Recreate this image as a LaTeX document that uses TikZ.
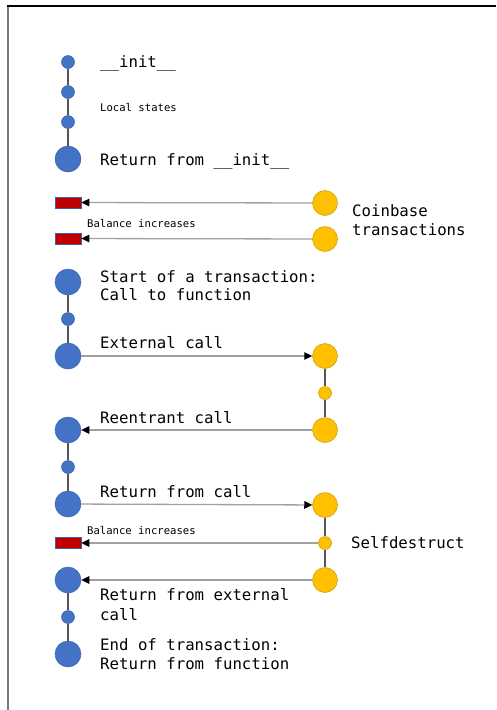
\documentclass[tikz,border=0pt]{standalone}
\usepackage{fontspec}
\setmonofont{DejaVu Sans Mono}
\usetikzlibrary{arrows.meta}
\definecolor{bl}{HTML}{4472C4}
\definecolor{bld}{HTML}{3A62AA}
\definecolor{og}{HTML}{FFC000}
\definecolor{ogd}{HTML}{C99A06}
\definecolor{rd}{HTML}{C00000}
\definecolor{ln}{HTML}{555555}
\definecolor{hl}{HTML}{A0A0A0}
\definecolor{fr}{HTML}{7A7A7A}
\begin{document}
\begin{tikzpicture}[x=1pt,y=-1pt,
  bigb/.style={circle,fill=bl,draw=bld,line width=0.5pt,minimum size=26pt,inner sep=0pt},
  smallb/.style={circle,fill=bl,draw=bld,line width=0.5pt,minimum size=13pt,inner sep=0pt},
  bigo/.style={circle,fill=og,draw=ogd,line width=0.5pt,minimum size=25pt,inner sep=0pt},
  smallo/.style={circle,fill=og,draw=ogd,line width=0.5pt,minimum size=13pt,inner sep=0pt},
  redbox/.style={rectangle,fill=rd,draw=bld,line width=0.6pt,minimum width=26pt,minimum height=11pt,inner sep=0pt},
  lab/.style={font=\fontsize{15.7}{18.5}\selectfont\ttfamily,anchor=base west,inner sep=0pt},
  slab/.style={font=\fontsize{10.6}{12}\selectfont\ttfamily,anchor=base west,inner sep=0pt},
  vline/.style={draw=ln,line width=1.3pt},
  harrow/.style={draw=hl,line width=1.3pt,-{Triangle[length=8pt,width=7.5pt,color=black]}}
]
\useasboundingbox (0,0) rectangle (496,710);
% frame
\draw[fr,line width=2pt] (8,6) -- (8,710);
\draw[black,line width=1.5pt] (7,6) -- (496,6);

% init section
\node[smallb] (b1) at (68,62) {};
\node[smallb] (b2) at (68,92) {};
\node[smallb] (b3) at (68,122) {};
\node[bigb] (b4) at (68,159) {};
\draw[vline] (b1) -- (b2) -- (b3) -- (b4);
\node[lab] (t1) at (100,67) {\_\_init\_\_};
\node[slab] (t2) at (100,111) {Local states};
\node[lab] (t3) at (100,165) {Return from \_\_init\_\_};

% coinbase
\node[redbox] (r1) at (68,202.5) {};
\node[redbox] (r2) at (68,238.5) {};
\node[bigo] (o1) at (325,203) {};
\node[bigo] (o2) at (325,239) {};
\draw[harrow] (o1) -- (r1);
\draw[harrow] (o2) -- (r2);
\node[slab] (t4) at (87,227) {Balance increases};
\node[lab] (t5a) at (352,216.5) {Coinbase};
\node[lab] (t5b) at (352,235) {transactions};

% transaction
\node[bigb] (b5) at (68,282) {};
\node[smallb] (b6) at (68,319) {};
\node[bigb] (b7) at (68,356) {};
\node[bigb] (b8) at (68,430) {};
\node[smallb] (b9) at (68,467) {};
\node[bigb] (b10) at (68,504) {};
\node[redbox] (r3) at (68,543) {};
\node[bigb] (b11) at (68,580) {};
\node[smallb] (b12) at (68,617) {};
\node[bigb] (b13) at (68,654) {};
\draw[vline] (b5) -- (b6) -- (b7);
\draw[vline] (b8) -- (b9) -- (b10);
\draw[vline] (b11) -- (b12) -- (b13);

\node[bigo] (o3) at (325,356) {};
\node[smallo] (o4) at (325,393) {};
\node[bigo] (o5) at (325,430) {};
\node[bigo] (o6) at (325,505) {};
\node[smallo] (o7) at (325,543) {};
\node[bigo] (o8) at (325,580) {};
\draw[vline] (o3) -- (o4) -- (o5);
\draw[vline] (o6) -- (o7) -- (o8);

\draw[harrow] (b7) -- (o3);
\draw[harrow] (o5) -- (b8);
\draw[harrow] (b10) -- (o6);
\draw[harrow] (o7) -- (r3);
\draw[harrow] (o8) -- (b11);

\node[lab] (t6a) at (100,282) {Start of a transaction:};
\node[lab] (t6b) at (100,300.5) {Call to function};
\node[lab] (t7) at (100,348) {External call};
\node[lab] (t8) at (100,423) {Reentrant call};
\node[lab] (t9) at (100,497) {Return from call};
\node[slab] (t10) at (87,534) {Balance increases};
\node[lab] (t11) at (351,548) {Selfdestruct};
\node[lab] (t12a) at (100,600) {Return from external};
\node[lab] (t12b) at (100,620) {call};
\node[lab] (t13a) at (100,650) {End of transaction:};
\node[lab] (t13b) at (100,669) {Return from function};
\end{tikzpicture}
\end{document}
